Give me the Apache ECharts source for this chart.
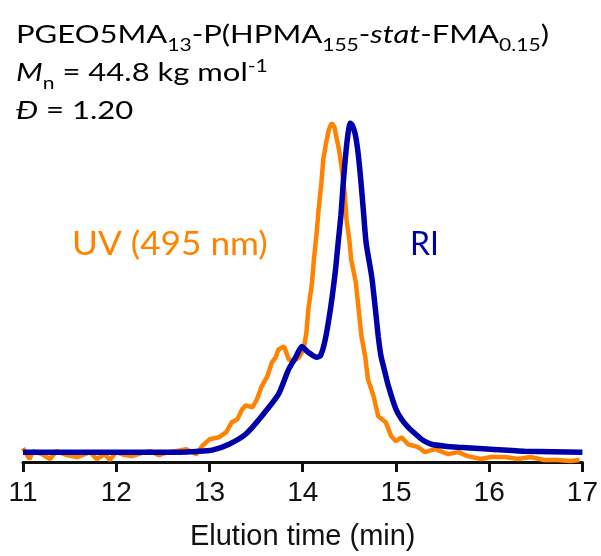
<!DOCTYPE html>
<html>
<head>
<meta charset="utf-8">
<script src="https://cdn.jsdelivr.net/npm/echarts@6/dist/echarts.min.js"></script>
<style>
  html, body { margin: 0; padding: 0; background: #fff; }
  #main { width: 601px; height: 556px; }
</style>
</head>
<body>
<div id="main"></div>
<script>
  // elution time (min) / normalised intensity
  let uvTime = [11.00, 11.07, 11.11, 11.20, 11.29, 11.36, 11.47, 11.58, 11.72, 11.79, 11.88, 11.93,
    12.00, 12.09, 12.17, 12.27, 12.36, 12.46, 12.55, 12.64, 12.75, 12.86, 12.92, 13.00, 13.10, 13.18,
    13.24, 13.30, 13.35, 13.39, 13.46, 13.51, 13.56, 13.62, 13.67, 13.71, 13.74, 13.80, 13.82, 13.85,
    13.90, 13.96, 14.01, 14.04, 14.06, 14.10, 14.12, 14.15, 14.17, 14.20, 14.22, 14.25, 14.28, 14.31,
    14.34, 14.36, 14.39, 14.42, 14.45, 14.47, 14.50, 14.52, 14.57, 14.60, 14.63, 14.67, 14.70, 14.76,
    14.81, 14.89, 14.95, 15.00, 15.06, 15.13, 15.24, 15.31, 15.42, 15.56, 15.67, 15.77, 15.91, 16.02,
    16.17, 16.31, 16.44, 16.59, 16.73, 16.87, 16.97];
  let uvValue = [0.012, -0.021, 0.003, -0.006, -0.021, 0.003, -0.009, -0.015, 0.000, -0.021, -0.006, -0.024,
    0.000, -0.009, -0.012, -0.003, 0.003, -0.009, 0.000, 0.003, 0.009, -0.006, 0.018, 0.039, 0.045, 0.061,
    0.091, 0.100, 0.130, 0.142, 0.136, 0.161, 0.200, 0.230, 0.273, 0.288, 0.312, 0.321, 0.306, 0.282,
    0.276, 0.288, 0.312, 0.364, 0.433, 0.515, 0.585, 0.667, 0.736, 0.818, 0.888, 0.939, 0.979, 1.000,
    0.988, 0.958, 0.918, 0.858, 0.788, 0.706, 0.645, 0.585, 0.515, 0.433, 0.352, 0.291, 0.221, 0.170,
    0.109, 0.091, 0.048, 0.033, 0.045, 0.024, 0.015, 0.000, 0.009, -0.006, 0.000, -0.012, -0.021, -0.015,
    -0.015, -0.021, -0.015, -0.024, -0.024, -0.027, -0.024];

  let riTime = [11.00, 12.00, 12.68, 12.86, 13.03, 13.21, 13.39, 13.56, 13.74, 13.85, 13.93, 13.99,
    14.06, 14.15, 14.19, 14.24, 14.30, 14.35, 14.38, 14.41, 14.43, 14.45, 14.47, 14.49, 14.51, 14.53,
    14.56, 14.59, 14.62, 14.65, 14.68, 14.74, 14.78, 14.81, 14.84, 14.88, 14.92, 15.00, 15.06, 15.13,
    15.21, 15.29, 15.38, 15.53, 15.67, 16.02, 16.38, 17.00];
  let riValue = [0.000, 0.000, 0.000, 0.002, 0.006, 0.024, 0.055, 0.109, 0.176, 0.252, 0.291, 0.321,
    0.303, 0.288, 0.293, 0.340, 0.440, 0.550, 0.636, 0.720, 0.800, 0.870, 0.930, 0.975, 1.000, 0.994,
    0.970, 0.918, 0.836, 0.736, 0.636, 0.533, 0.433, 0.352, 0.291, 0.245, 0.200, 0.130, 0.100, 0.076,
    0.055, 0.036, 0.024, 0.018, 0.015, 0.009, 0.003, 0.000];

  let xTicks = [11, 12, 13, 14, 15, 16, 17];

  let uvColor = '#ff8200';
  let riColor = '#0000aa';

  let chart = echarts.init(document.getElementById('main'));

  let option = {
    animation: false,
    backgroundColor: '#fff',
    grid: {
      left: 23,
      right: 16,
      top: 123,
      bottom: 93,
      containLabel: false
    },
    xAxis: {
      type: 'value',
      min: xTicks[0],
      max: xTicks[xTicks.length - 1],
      interval: 1,
      name: 'Elution time (min)',
      nameLocation: 'middle',
      nameGap: 60,
      nameTextStyle: {
        fontFamily: 'Liberation Sans',
        fontSize: 29,
        color: '#111'
      },
      axisLine: {
        onZero: false,
        lineStyle: { color: '#111', width: 3 }
      },
      axisTick: {
        length: 10,
        lineStyle: { color: '#111', width: 3 }
      },
      axisLabel: {
        margin: 17,
        fontFamily: 'Liberation Sans',
        fontSize: 28,
        color: '#111'
      },
      splitLine: { show: false }
    },
    yAxis: {
      type: 'value',
      min: -0.03,
      max: 1,
      show: false
    },
    series: [
      {
        name: 'UV (495 nm)',
        type: 'line',
        showSymbol: false,
        lineStyle: { color: uvColor, width: 4.5 },
        data: uvTime.map((t, i) => [t, uvValue[i]])
      },
      {
        name: 'RI',
        type: 'line',
        smooth: 0.2,
        showSymbol: false,
        lineStyle: { color: riColor, width: 5.5 },
        data: riTime.map((t, i) => [t, riValue[i]])
      }
    ],
    graphic: [
      {
        type: 'text',
        x: 16,
        y: 16,
        scaleX: 1.24,
        style: {
          text: '{n|PGEO5MA}{s|13}{n|-P(HPMA}{s|155}{n|-}{i|stat}{n|-FMA}{s|0.15}{n|)}\n' +
            '{i|M}{s|n}{n| = 44.8 kg mol}{p|-1}\n' +
            '{i|Đ}{n| = 1.20}',
          rich: {
            n: { fontFamily: 'Lato', fontSize: 25, lineHeight: 38, color: '#000', verticalAlign: 'middle' },
            i: { fontFamily: 'Lato', fontStyle: 'italic', fontSize: 25, lineHeight: 38, color: '#000', verticalAlign: 'middle' },
            s: { fontFamily: 'Lato', fontSize: 17, lineHeight: 38, color: '#000', verticalAlign: 'bottom' },
            p: { fontFamily: 'Lato', fontSize: 17, lineHeight: 38, color: '#000', verticalAlign: 'top', padding: [4, 0, 0, 0] }
          }
        }
      },
      {
        type: 'text',
        x: 72,
        y: 245,
        scaleX: 1.1,
        style: {
          text: 'UV (495 nm)',
          fontFamily: 'Lato',
          fontSize: 32,
          verticalAlign: 'middle',
          fill: uvColor
        }
      },
      {
        type: 'text',
        x: 410,
        y: 245,
        style: {
          text: 'RI',
          fontFamily: 'Lato',
          fontSize: 32,
          verticalAlign: 'middle',
          fill: riColor
        }
      }
    ]
  };
  chart.setOption(option);
</script>
</body>
</html>
